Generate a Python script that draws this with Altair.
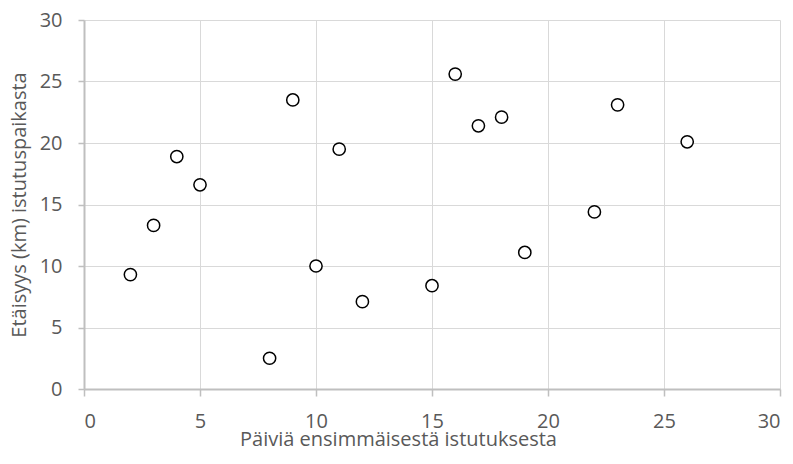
import altair as alt
import pandas as pd

days = [2, 3, 4, 5, 8, 9, 10, 11, 12, 15, 16, 17, 18, 19, 22, 23, 26]
dist = [9.3, 13.3, 18.9, 16.6, 2.5, 23.5, 10.0, 19.5, 7.1, 8.4, 25.6, 21.4, 22.1, 11.1, 14.4, 23.1, 20.1]
ticks = [0, 5, 10, 15, 20, 25, 30]

df = pd.DataFrame({"x": days, "y": dist})

FONT = "Open Sans"
GRAY = "#595959"

chart = alt.Chart(df).mark_point(
    shape="circle", filled=False, fill="white", fillOpacity=1,
    stroke="black", strokeWidth=1.5, size=150, opacity=1
).encode(
    x=alt.X("x:Q", scale=alt.Scale(domain=[0, 30], nice=False, zero=True),
            axis=alt.Axis(values=ticks, title="Päiviä ensimmäisestä istutuksesta",
                          titleX=314, titleY=56, titleBaseline="alphabetic", titleAlign="center",
                          labelBaseline="alphabetic", labelPadding=31, tickSize=7)),
    y=alt.Y("y:Q", scale=alt.Scale(domain=[0, 30], nice=False, zero=True),
            axis=alt.Axis(values=ticks, title="Etäisyys (km) istutuspaikasta",
                          titleX=-65, titleY=184.5, titleBaseline="middle", titleAlign="center",
                          labelPadding=16, tickSize=6)),
).properties(
    width=696, height=369,
    autosize=alt.AutoSizeParams(type="none"),
    padding={"left": 76, "top": 12, "right": 5, "bottom": 60},
).configure_view(stroke=None).configure_axis(
    grid=True, gridColor="#d9d9d9", gridWidth=1,
    domainColor="#bfbfbf", domainWidth=2, tickColor="#bfbfbf", tickWidth=1.5,
    labelFont=FONT, labelFontSize=20, labelColor=GRAY,
    titleFont=FONT, titleFontSize=20, titleColor=GRAY, titleFontWeight="normal",
)

chart.save("out.html", embed_options={"renderer": "svg", "actions": False})
